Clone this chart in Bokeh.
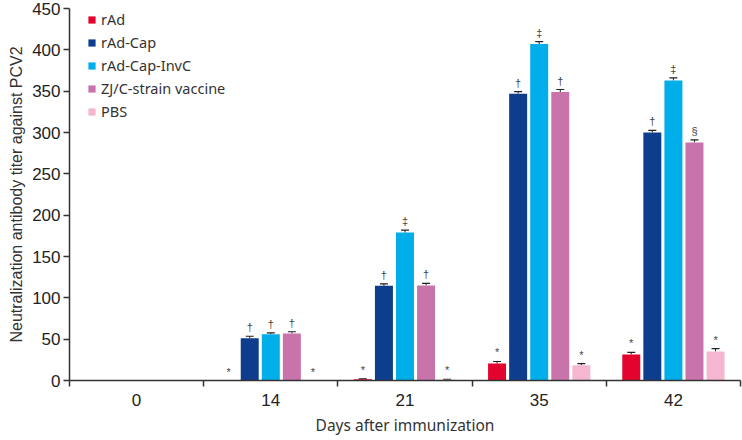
import numpy as np
from bokeh.plotting import figure
from bokeh.models import (ColumnDataSource, FixedTicker, Whisker, Legend, LegendItem,
                          TeeHead, Range1d)
from bokeh.embed import file_html
from bokeh.resources import INLINE
from bokeh.core.properties import value

nan = float("nan")

days = ["0", "14", "21", "35", "42"]
groups = ["rAd", "rAd-Cap", "rAd-Cap-InvC", "ZJ/C-strain vaccine", "PBS"]
colors = ["#E4032E", "#0E3D8E", "#00AEEA", "#C874AB", "#F4B6D0"]

rad = [0, 0, 1.5, 20.5, 31.5]
rad_cap = [0, 51, 114.5, 347, 300]
rad_cap_invc = [0, 56, 179, 407, 363]
zj_c = [0, 57, 115, 349, 288]
pbs = [0, 0, 1, 18.5, 35]

rad_err = [nan, nan, 0.5, 2.5, 2.5]
rad_cap_err = [nan, 2.5, 2.5, 2.5, 2.5]
rad_cap_invc_err = [nan, 1.5, 3, 3, 3]
zj_c_err = [nan, 2, 2.5, 3, 3]
pbs_err = [nan, nan, 0.5, 2, 3.5]

rad_sig = ["", "*", "*", "*", "*"]
rad_cap_sig = ["", "†", "†", "†", "†"]
rad_cap_invc_sig = ["", "†", "‡", "‡", "‡"]
zj_c_sig = ["", "†", "†", "†", "§"]
pbs_sig = ["", "*", "*", "*", "*"]

y_ticks = [0, 50, 100, 150, 200, 250, 300, 350, 400, 450]

series = [rad, rad_cap, rad_cap_invc, zj_c, pbs]
errs = [rad_err, rad_cap_err, rad_cap_invc_err, zj_c_err, pbs_err]
sigs = [rad_sig, rad_cap_sig, rad_cap_invc_sig, zj_c_sig, pbs_sig]

step = 0.157
bar_w = 0.134

p = figure(width=742, height=440, output_backend="svg", toolbar_location=None,
           x_range=Range1d(0, len(days)), y_range=Range1d(0, 450),
           min_border_left=69, min_border_right=2, min_border_top=8, min_border_bottom=60)
p.outline_line_color = None
p.xgrid.grid_line_color = None
p.ygrid.grid_line_color = None
p.background_fill_color = "white"

items = []
for g, (name, col, vals, er, sg) in enumerate(zip(groups, colors, series, errs, sigs)):
    xs = [i + 0.5 + (g - 2) * step for i in range(len(days))]
    ev = np.array(er, dtype=float)
    vv = np.array(vals, dtype=float)
    upper = vv + ev
    src = ColumnDataSource(dict(x=xs, top=vals, lower=vals, upper=list(upper),
                                ty=list(vv + np.nan_to_num(ev)), sig=sg))
    r = p.vbar(x="x", top="top", bottom=0, width=bar_w, source=src,
               fill_color=col, line_color=None)
    w = Whisker(base="x", upper="upper", lower="lower", source=src, dimension="height",
                line_color="#222222", line_width=1,
                upper_head=TeeHead(size=8, line_color="#222222", line_width=1.2),
                lower_head=None)
    p.add_layout(w)
    p.text(x="x", y="ty", text="sig", source=src, text_align="center",
           text_baseline="alphabetic", y_offset=-9, text_font_size="11px",
           text_color="#444444", text_font=value("Liberation Sans"))
    items.append(LegendItem(label=name, renderers=[r]))

legend = Legend(items=items, location=(18, 259), glyph_width=9, glyph_height=9,
                label_height=13, spacing=3, padding=0, margin=0, label_standoff=5,
                label_text_font="Noto Sans", label_text_font_size="14.5px",
                label_text_color="#333333", background_fill_alpha=0,
                border_line_color=None)
p.add_layout(legend)

# x axis: labels at category centres, ticks at boundaries
xa = p.xaxis[0]
xa.ticker = FixedTicker(ticks=[i + 0.5 for i in range(len(days))],
                        minor_ticks=list(range(len(days) + 1)))
xa.major_label_overrides = {i + 0.5: d for i, d in enumerate(days)}
xa.major_tick_line_color = None
xa.major_tick_out = 0
xa.minor_tick_in = 0
xa.minor_tick_out = 6
xa.minor_tick_line_color = "#333333"
xa.minor_tick_line_width = 1.5
xa.axis_line_color = "#333333"
xa.axis_line_width = 1.5
xa.major_label_standoff = 7
xa.major_label_text_font = "Liberation Sans"
xa.major_label_text_font_size = "17px"
xa.major_label_text_color = "#222222"
xa.axis_label = "Days after immunization"
xa.axis_label_text_font = "Noto Sans"
xa.axis_label_text_font_size = "15.5px"
xa.axis_label_text_font_style = "normal"
xa.axis_label_text_color = "#333333"
xa.axis_label_standoff = 5

ya = p.yaxis[0]
ya.ticker = FixedTicker(ticks=y_ticks)
ya.minor_tick_line_color = None
ya.major_tick_in = 0
ya.major_tick_out = 6
ya.major_tick_line_color = "#333333"
ya.major_tick_line_width = 1.5
ya.axis_line_color = "#333333"
ya.axis_line_width = 1.5
ya.major_label_standoff = 3
ya.major_label_text_font = "Liberation Sans"
ya.major_label_text_font_size = "17px"
ya.major_label_text_color = "#222222"
ya.axis_label = "Neutralization antibody titer against PCV2"
ya.axis_label_text_font = "Liberation Sans"
ya.axis_label_text_font_size = "16px"
ya.axis_label_text_font_style = "normal"
ya.axis_label_text_color = "#333333"
ya.axis_label_standoff = 4

open("out.html", "w").write(file_html(p, INLINE))
